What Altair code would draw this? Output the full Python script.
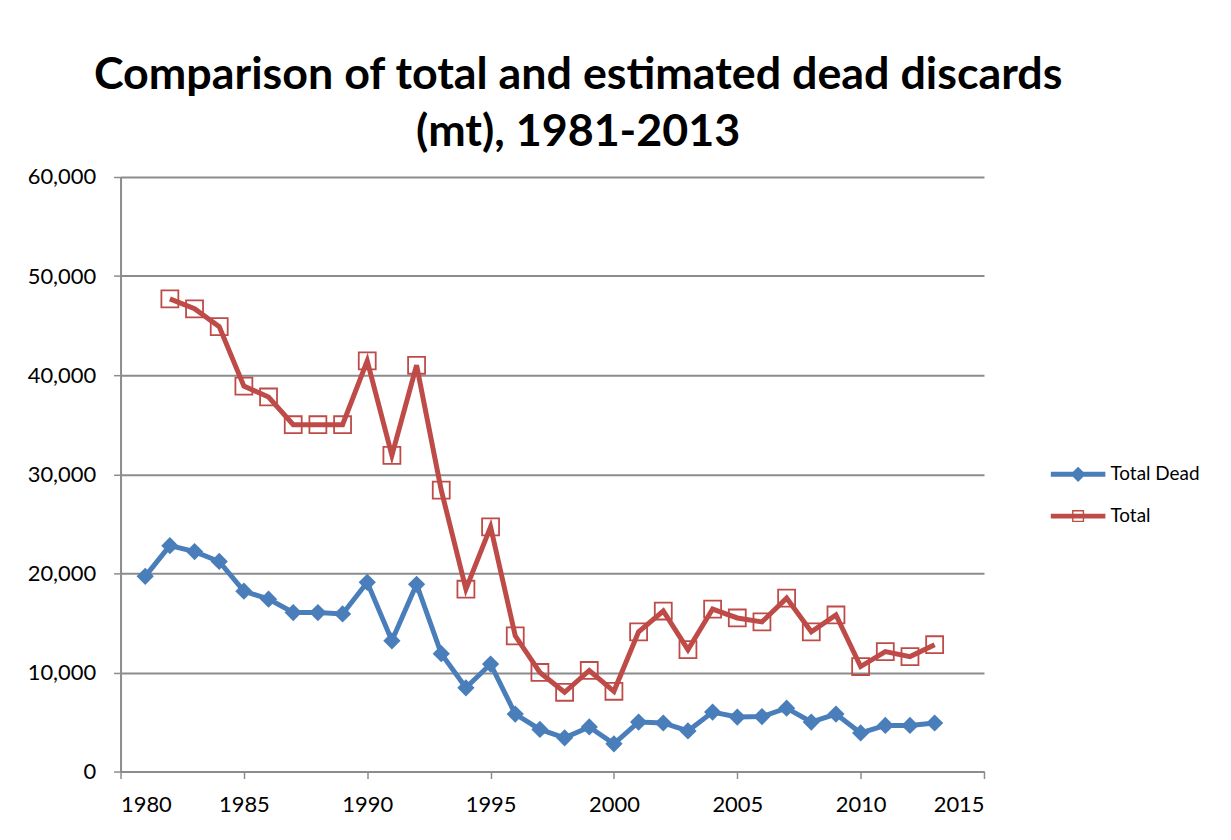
import altair as alt
import pandas as pd

years = list(range(1981, 2014))
total_dead = [19700, 22800, 22200, 21200, 18200, 17400, 16050, 16050, 15900, 19100,
              13200, 18900, 11900, 8450, 10850, 5800, 4250, 3400, 4500, 2800,
              5000, 4900, 4100, 6000, 5500, 5550, 6400, 5000, 5800, 3900,
              4650, 4650, 4900]
total = [None, 47700, 46700, 44900, 38900, 37800, 35000, 35000, 35000, 41450,
         31900, 41000, 28400, 18400, 24700, 13700, 10000, 8000, 10200, 8100,
         14100, 16200, 12300, 16400, 15500, 15100, 17500, 14100, 15800, 10600,
         12100, 11600, 12800]
series_names = ["Total Dead", "Total"]
series_colors = ["#4A7EBB", "#BE4B48"]
x_ticks = [1980, 1985, 1990, 1995, 2000, 2005, 2010, 2015]
y_ticks = [0, 10000, 20000, 30000, 40000, 50000, 60000]

rows = []
for y, v in zip(years, total_dead):
    rows.append({"year": y, "value": v, "series": "Total Dead"})
for y, v in zip(years, total):
    if v is not None:
        rows.append({"year": y, "value": v, "series": "Total"})
df = pd.DataFrame(rows)

FONT = "Lato"
GRID = "#8C8C8C"

x_enc = alt.X("year:Q", scale=alt.Scale(domain=[1980, 2015], nice=False),
              axis=alt.Axis(values=x_ticks, format=".0f", title=None, grid=False,
                            domainColor=GRID, domainWidth=2, tickColor=GRID, tickWidth=1.5,
                            tickSize=7, labelPadding=16, labelFontSize=22, labelFont=FONT,
                            labelColor="#000000"))
y_enc = alt.Y("value:Q", scale=alt.Scale(domain=[0, 60000], nice=False),
              axis=alt.Axis(values=y_ticks, format=",.0f", title=None, grid=True,
                            gridColor=GRID, gridWidth=2, domainColor=GRID, domainWidth=2,
                            tickColor=GRID, tickWidth=1.5, tickSize=7, labelPadding=18,
                            labelFontSize=22, labelFont=FONT, labelColor="#000000"))

base = alt.Chart(df).encode(x=x_enc, y=y_enc)
dead = base.transform_filter(alt.datum.series == "Total Dead")
tot = base.transform_filter(alt.datum.series == "Total")

line_dead = dead.mark_line(strokeWidth=5, color=series_colors[0])
line_tot = tot.mark_line(strokeWidth=5, color=series_colors[1])
pts_dead = dead.mark_point(shape="diamond", filled=True, size=300, opacity=1,
                           color=series_colors[0])
pts_tot = tot.mark_point(shape="square", filled=False, size=290, strokeWidth=1.8,
                         opacity=1, color=series_colors[1])

# legend symbols: line with marker (diamond / hollow square)
path_dead = ("M-1,-0.09 L1,-0.09 L1,0.09 L-1,0.09 Z "
             "M0,-0.28 L0.28,0 L0,0.28 L-0.28,0 Z")
path_total = ("M-1,-0.09 L1,-0.09 L1,0.09 L-1,0.09 Z "
              "M-0.22,-0.22 L0.22,-0.22 L0.22,0.22 L-0.22,0.22 Z "
              "M-0.17,-0.17 L-0.17,0.17 L0.17,0.17 L0.17,-0.17 Z")

legend_props = dict(title=None, orient="none", legendX=933, legendY=270,
                    symbolSize=3000, symbolOpacity=1,
                    labelFont=FONT, labelFontSize=19, labelColor="#000000",
                    labelOffset=4)

legend_layer = base.mark_point(filled=True, size=0).encode(
    fill=alt.Fill("series:N", scale=alt.Scale(domain=series_names, range=series_colors),
                  legend=alt.Legend(**legend_props)),
    shape=alt.Shape("series:N", scale=alt.Scale(domain=series_names,
                                                range=[path_dead, path_total]),
                    legend=alt.Legend(**legend_props)),
)

chart = alt.layer(line_dead, line_tot, pts_dead, pts_tot, legend_layer).properties(
    width=867, height=597,
    title=alt.TitleParams(
        text=["Comparison of total and estimated dead discards", "(mt), 1981-2013"],
        font=FONT, fontSize=45, fontWeight="bold", color="#000000",
        anchor="middle", dx=26, lineHeight=57, offset=11,
    ),
    padding={"left": 113, "top": 168, "right": 240, "bottom": 60},
    autosize=alt.AutoSizeParams(type="none"),
).configure_view(stroke=None).configure_axis(
    labelFontSize=22, labelFont=FONT, labelColor="#000000"
)

chart.save("out.html", embed_options={"renderer": "svg", "actions": False})
